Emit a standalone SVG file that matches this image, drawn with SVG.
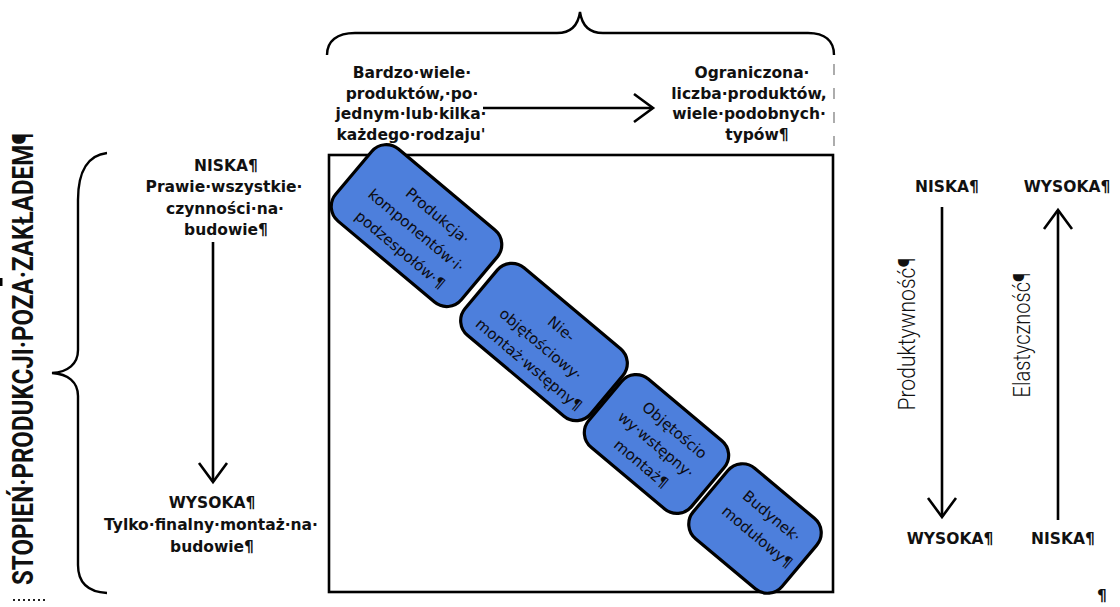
<svg xmlns="http://www.w3.org/2000/svg" width="1120" height="607" viewBox="0 0 1120 607">
  <defs>
    <marker id="chev" viewBox="-22 -16 26 32" markerWidth="26" markerHeight="32" refX="0" refY="0" orient="auto" markerUnits="userSpaceOnUse">
      <path d="M-19,-14 L0,0 L-19,14" fill="none" stroke="#000" stroke-width="2.6" stroke-linejoin="miter"/>
    </marker>
  </defs>
  <style>
    .lbl { font-family: "DejaVu Sans", "Noto Sans", sans-serif; font-weight: bold; font-size: 15.5px; fill: #111; text-anchor: middle; }
    .axis { font-family: "Roboto", "Liberation Sans", sans-serif; font-weight: 300; font-size: 24px; fill: #111; text-anchor: middle; }
    .big { font-family: "Roboto", "Liberation Sans", sans-serif; font-weight: bold; font-size: 30px; fill: #111; text-anchor: middle; }
    .box rect { fill: #4d7fdc; stroke: #000; stroke-width: 3.2; }
    .box text { font-family: "DejaVu Sans", "Liberation Sans", sans-serif; font-size: 15px; fill: #0c0c12; text-anchor: middle; }
    .brace { fill: none; stroke: #000; stroke-width: 2.4; }
    .conn line { stroke: #000; stroke-width: 2.6; marker-end: url(#chev); }
  </style>

  <rect width="1120" height="607" fill="#fff"/>

  <!-- braces -->
  <g id="braces">
    <path class="brace" d="M327,55 C327,41 337,33 355,33 L557,33 C571,33 578,26 580,12 C582,26 589,33 603,33 L808,33 C825,33 834,41 834,55"/>
    <path class="brace" d="M107,153 C89,155 78,170 78,200 L78,350 C78,364 68,372 52,373 C68,374 78,382 78,396 L78,565 C78,584 89,592 107,593"/>
  </g>

  <!-- matrix frame -->
  <g id="matrix">
    <rect x="329" y="155" width="504" height="437" fill="none" stroke="#000" stroke-width="2.6"/>
  </g>

  <!-- top header texts -->
  <g id="products-many">
    <text class="lbl" x="412" y="78">Bardzo·wiele·</text>
    <text class="lbl" x="412" y="99">produktów,·po·</text>
    <text class="lbl" x="411" y="119">jednym·lub·kilka·</text>
    <text class="lbl" x="411" y="140">każdego·rodzaju'</text>
  </g>
  <g id="products-few">
    <text class="lbl" x="752" y="78">Ograniczona·</text>
    <text class="lbl" x="749" y="99">liczba·produktów,</text>
    <text class="lbl" x="749" y="119">wiele·podobnych·</text>
    <text class="lbl" x="757" y="140">typów¶</text>
    <line x1="834" y1="64" x2="834" y2="146" stroke="#8a8a8a" stroke-width="1.4" stroke-dasharray="11 13"/>
  </g>

  <!-- left axis -->
  <g id="axis-label">
    <text class="big" transform="translate(33,359) rotate(-90)" textLength="452" lengthAdjust="spacingAndGlyphs">STOPIEŃ·PRODUKCJI·POZA·ZAKŁADEM¶</text>
    <line x1="13" y1="600" x2="46" y2="600" stroke="#222" stroke-width="2" stroke-dasharray="2 3"/>
    <rect x="0" y="278" width="2.5" height="8" fill="#000"/>
  </g>
  <g id="offsite-low">
    <text class="lbl" x="226" y="171">NISKA¶</text>
    <text class="lbl" x="224" y="192">Prawie·wszystkie·</text>
    <text class="lbl" x="225" y="214">czynności·na·</text>
    <text class="lbl" x="226" y="235">budowie¶</text>
  </g>
  <g id="offsite-high">
    <text class="lbl" x="212" y="508">WYSOKA¶</text>
    <text class="lbl" x="211" y="530">Tylko·finalny·montaż·na·</text>
    <text class="lbl" x="212" y="552">budowie¶</text>
  </g>

  <!-- process boxes along the diagonal -->
  <g id="box-components" class="box" transform="translate(416.5,225.6) rotate(40)">
    <rect x="-82" y="-47" width="164" height="94" rx="19"/>
    <text x="10" y="-16">Produkcja·</text>
    <text x="3" y="9">komponentów·i·</text>
    <text x="3" y="34">podzespołów·¶</text>
  </g>
  <g id="box-nonvolumetric" class="box" transform="translate(544,342) rotate(40)">
    <rect x="-82" y="-44" width="164" height="88" rx="19"/>
    <text x="5" y="-16">Nie-</text>
    <text x="-1" y="9">objętościowy·</text>
    <text x="3" y="32">montaż·wstępny¶</text>
  </g>
  <g id="box-volumetric" class="box" transform="translate(656.5,444) rotate(40)">
    <rect x="-67" y="-44.5" width="134" height="89" rx="19"/>
    <text x="5" y="-17">Objętościo</text>
    <text x="0" y="6">wy·wstępny·</text>
    <text x="1" y="30">montaż¶</text>
  </g>
  <g id="box-modular" class="box" transform="translate(755,528.5) rotate(40)">
    <rect x="-58" y="-46" width="116" height="92" rx="19"/>
    <text x="5" y="-15">Budynek·</text>
    <text x="7" y="10">modułowy¶</text>
  </g>

  <!-- right scales -->
  <g id="productivity">
    <text class="lbl" x="947" y="192">NISKA¶</text>
    <text class="lbl" x="950" y="544">WYSOKA¶</text>
    <text class="axis" transform="translate(915,334) rotate(-90)" textLength="153" lengthAdjust="spacingAndGlyphs">Produktywność¶</text>
  </g>
  <g id="flexibility">
    <text class="lbl" x="1067" y="192">WYSOKA¶</text>
    <text class="lbl" x="1063" y="544">NISKA¶</text>
    <text class="axis" transform="translate(1030,335) rotate(-90)" textLength="125" lengthAdjust="spacingAndGlyphs">Elastyczność¶</text>
  </g>
  <text class="lbl" x="1102" y="601">¶</text>

  <!-- connectors -->
  <g id="connectors" class="conn">
    <line x1="483" y1="108" x2="653" y2="108"/>
    <line x1="213" y1="242" x2="213" y2="482"/>
    <line x1="942" y1="207" x2="942" y2="517"/>
    <line x1="1058" y1="520" x2="1058" y2="210"/>
  </g>
</svg>
